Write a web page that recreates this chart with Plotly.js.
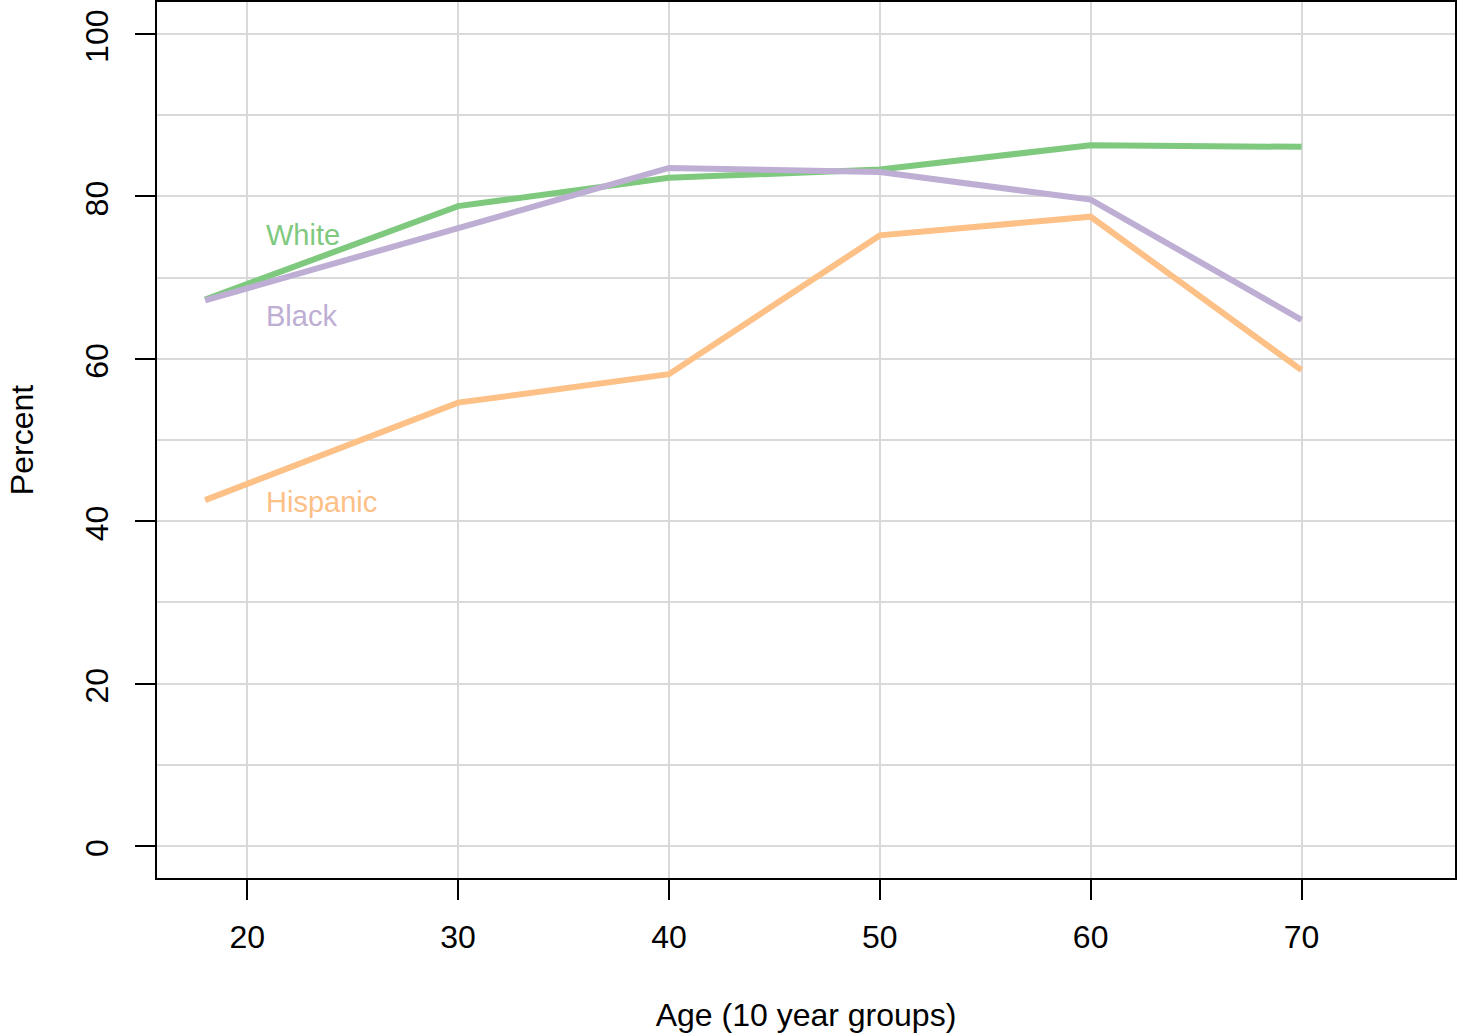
<!DOCTYPE html>
<html>
<head>
<meta charset="utf-8">
<script src="https://cdn.plot.ly/plotly-3.0.1.min.js"></script>
<style>html,body{margin:0;padding:0;background:#fff;}#chart{width:1463px;height:1033px;}</style>
</head>
<body>
<div id="chart"></div>
<script>
// Data
const ages = [18, 30, 40, 50, 60, 70];
const white = [67.3, 78.8, 82.3, 83.3, 86.3, 86.1];
const black = [67.2, 76.0, 83.5, 83.0, 79.6, 64.8];
const hispanic = [42.6, 54.6, 58.1, 75.2, 77.5, 58.6];
const seriesNames = ["White", "Black", "Hispanic"];
const seriesColors = ["#7fc97f", "#beaed4", "#fdc086"];
const labelX = [20.8, 20.8, 20.8];
const labelY = [75.3, 65.3, 42.4];

const seriesData = [white, black, hispanic];
const traces = seriesData.map((vals, i) => ({
  x: ages, y: vals, type: 'scatter', mode: 'lines', name: seriesNames[i],
  line: {color: seriesColors[i], width: 6, shape: 'linear'},
  hoverinfo: 'x+y+name'
}));

const font = "Liberation Sans, Arial, Helvetica, sans-serif";
const annotations = seriesNames.map((n, i) => ({
  x: labelX[i], y: labelY[i], xref: 'x', yref: 'y', text: n, showarrow: false,
  xanchor: 'left', yanchor: 'middle', font: {family: font, size: 29, color: seriesColors[i]}
}));

const layout = {
  width: 1463, height: 1033,
  margin: {l: 157, r: 8, t: 2, b: 155, pad: 0},
  paper_bgcolor: '#fff', plot_bgcolor: '#fff',
  showlegend: false,
  font: {family: font, size: 32, color: '#000'},
  xaxis: {
    range: [15.72, 77.28], tickmode: 'linear', tick0: 20, dtick: 10,
    showgrid: true, gridcolor: '#d9d9d9', gridwidth: 2,
    zeroline: false, showline: true, linecolor: '#000', linewidth: 2, mirror: true,
    ticks: 'outside', ticklen: 20, tickwidth: 2, tickcolor: '#000',
    ticklabelstandoff: 10,
    tickfont: {family: font, size: 32, color: '#000'},
    title: {text: 'Age (10 year groups)', font: {family: font, size: 32, color: '#000'}, standoff: 50}
  },
  yaxis: {
    range: [-3.94, 103.94], tickmode: 'linear', tick0: 0, dtick: 20,
    showgrid: true, gridcolor: '#d9d9d9', gridwidth: 2,
    minor: {dtick: 10, showgrid: true, gridcolor: '#d9d9d9', gridwidth: 2, ticks: ''},
    zeroline: false, showline: true, linecolor: '#000', linewidth: 2, mirror: true,
    ticks: 'outside', ticklen: 20, tickwidth: 2, tickcolor: '#000',
    tickangle: -90, ticklabelstandoff: 14, ticklabelshift: 7, ticklabeloverflow: 'allow',
    tickfont: {family: font, size: 32, color: '#000'},
    title: {text: 'Percent', font: {family: font, size: 32, color: '#000'}, standoff: 36}
  },
  annotations: annotations
};

Plotly.newPlot('chart', traces, layout, {staticPlot: true, displayModeBar: false});
</script>
</body>
</html>
